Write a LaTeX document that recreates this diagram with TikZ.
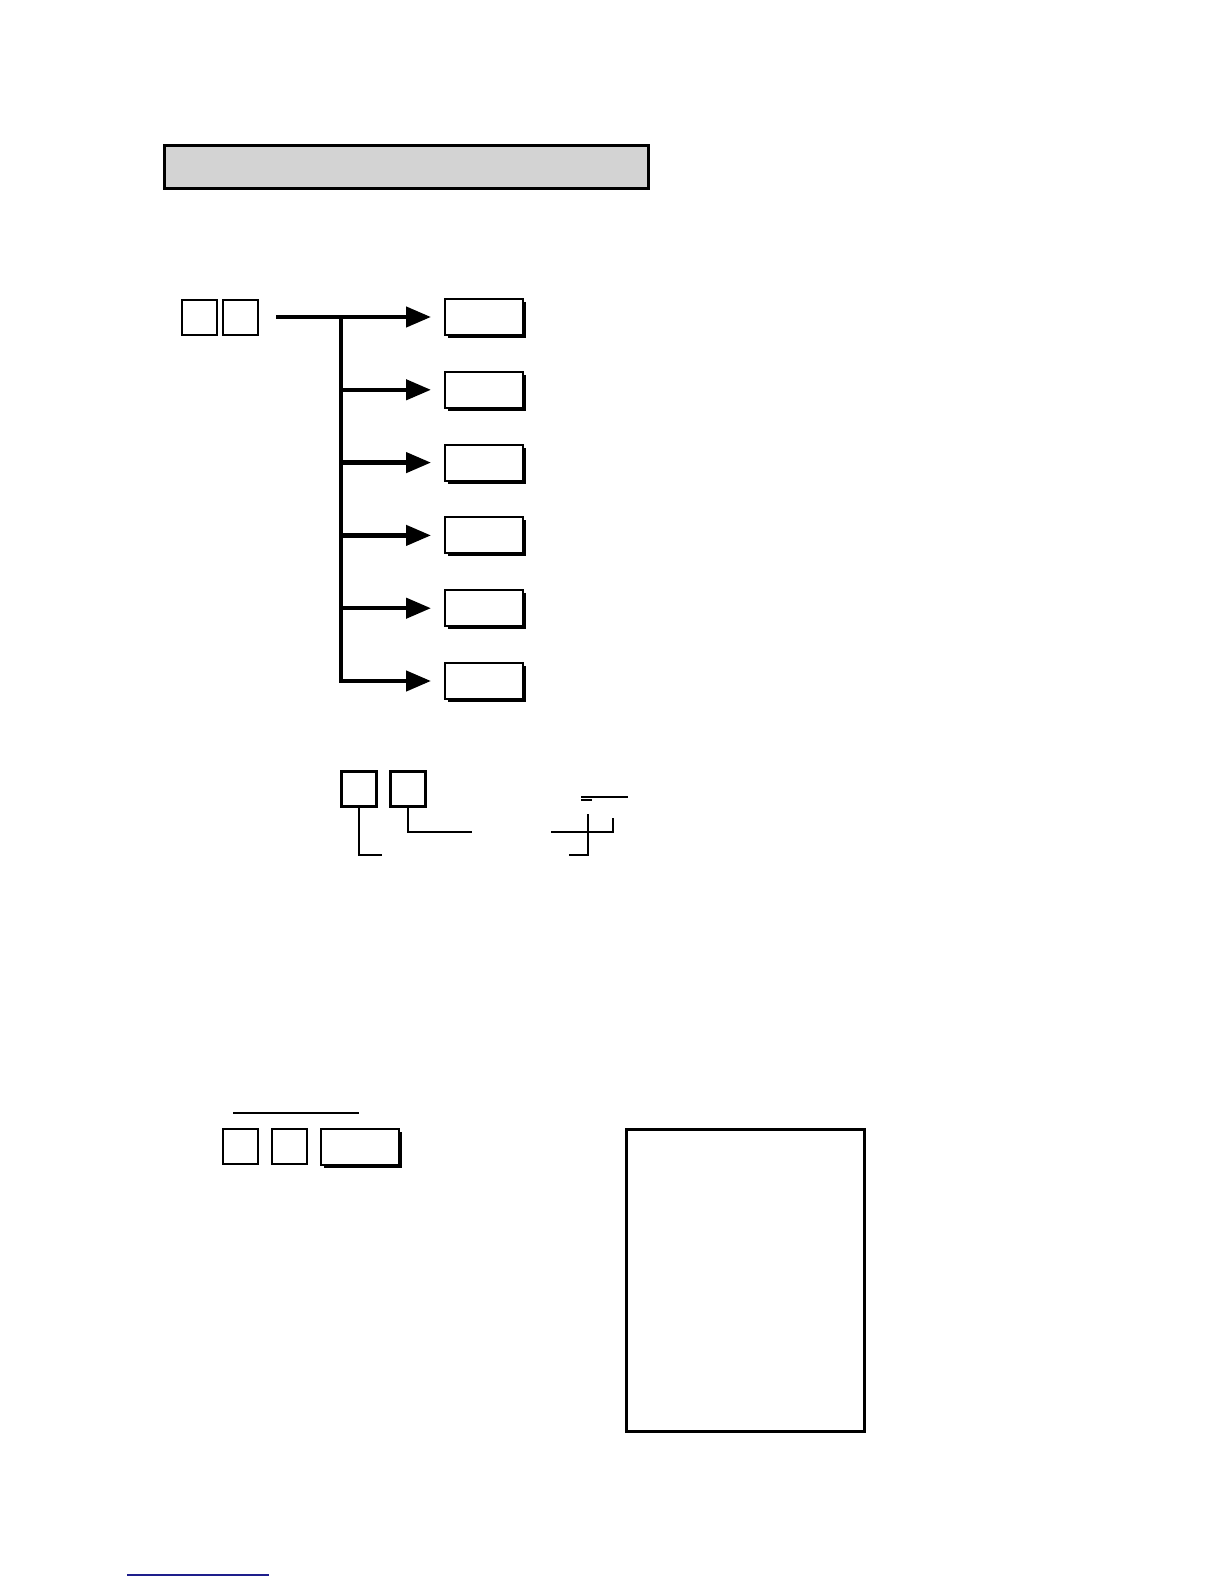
\documentclass[tikz,border=0pt]{standalone}
\usepackage{tikz}
\usetikzlibrary{arrows.meta, shadows, positioning}
\definecolor{headgray}{RGB}{211,211,211}
\definecolor{linkblue}{RGB}{30,30,140}

\begin{document}
\begin{tikzpicture}[>={Triangle[length=12.5pt,width=10pt]}, x=0.5pt, y=-0.5pt, node distance=36.4pt, on grid,
    key/.style={draw, line width=1pt, minimum width=17.5pt, minimum height=17.5pt, inner sep=0pt},
    softkey/.style={draw, fill=white, line width=1pt, minimum width=39pt, minimum height=18pt, inner sep=0pt,
        drop shadow={shadow xshift=1.5pt, shadow yshift=-1.5pt, fill=black, opacity=1}},
    branch/.style={->, line width=2.2pt, shorten >=6.5pt},
    lead/.style={line width=0.75pt}]
        \useasboundingbox (0,0) rectangle (1224,1584);
        \node[draw, fill=headgray, line width=1.5pt, minimum width=242pt, minimum height=21.5pt] (title) at (406,166.5) {};
        % keys and the menu they open
        \node[key] (m1) at (199.5,317) {};
        \node[key] (m2) [right=20.25pt of m1] {};
        \node[softkey] (k1) at (484,317) {};
        \node[softkey] (k2) [below=of k1] {};
        \node[softkey] (k3) [below=of k2] {};
        \node[softkey] (k4) [below=of k3] {};
        \node[softkey] (k5) [below=of k4] {};
        \node[softkey] (k6) [below=of k5] {};
        \coordinate (start) at (276,317);
        \coordinate (fork) at (341,317);
        \draw[branch] (start) -- (k1);
        \foreach \k in {2,...,5}
            \draw[branch] (fork |- k\k) -- (k\k);
        \draw[branch] (fork) |- (k6);
        % digit keys with leads
        \node[key, line width=1.2pt] (a1) at (359,789) {};
        \node[key, line width=1.2pt] (a2) [right=24.5pt of a1] {};
        \coordinate (a1end) at (382,855);
        \coordinate (a2end) at (472,832);
        \draw[lead] (a1) |- (a1end);
        \draw[lead] (a2) |- (a2end);
        \draw[lead] (551,832) -- (613,832) -- (613,818);
        \draw[lead] (588,814) -- (588,855) -- (569,855);
        \draw[lead] (581,797) -- (628,797);
        \draw[lead] (581,800) -- (592,800);
        % example entry and printout
        \draw[lead] (233,1113) -- (359,1113);
        \node[key] (b1) at (240.5,1146) {};
        \node[key] (b2) [right=24.25pt of b1] {};
        \node[softkey] (b3) at (360,1147) {};
        \node[draw, line width=1.5pt, minimum width=119pt, minimum height=151pt] (slip) at (745,1280) {};
        \draw[linkblue, line width=0.6pt] (127,1575) -- (269,1575);
    \end{tikzpicture}
\end{document}
